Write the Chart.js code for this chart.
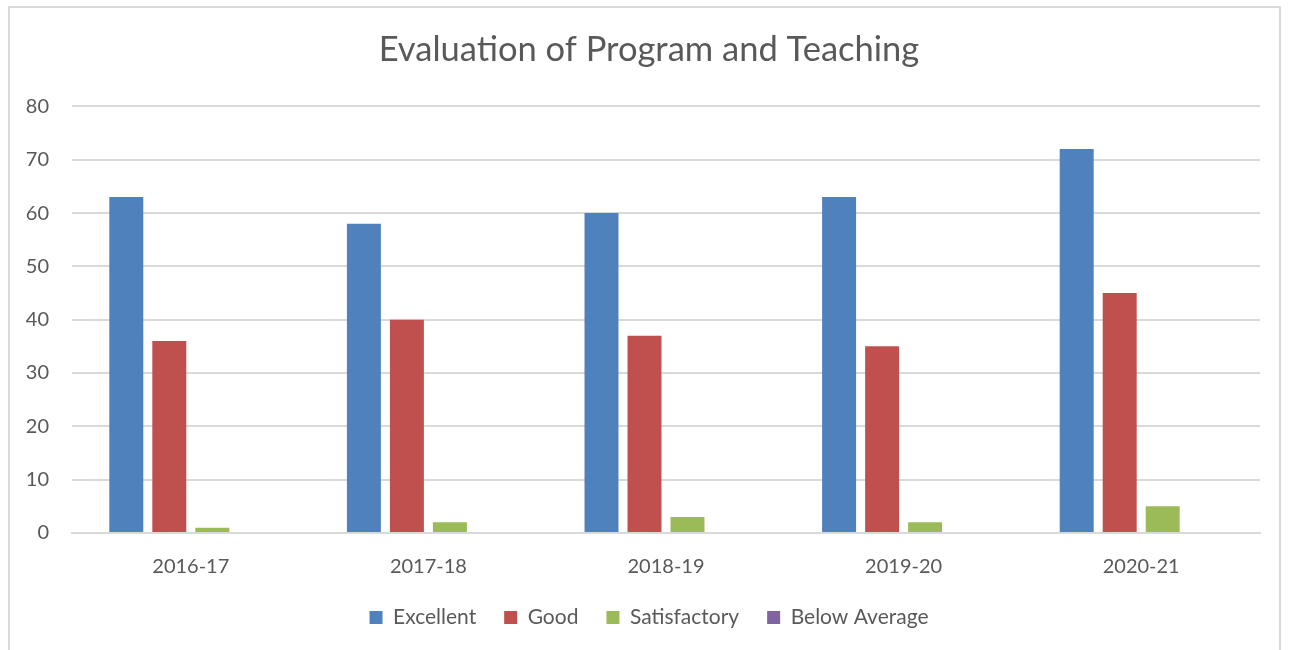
<!DOCTYPE html>
<html><head><meta charset="utf-8">
<script src="https://cdn.jsdelivr.net/npm/chart.js@4/dist/chart.umd.min.js"></script>
<style>
html,body{margin:0;padding:0;background:#fff;overflow:hidden;}
#frame{position:absolute;left:8px;top:6px;width:1269px;height:700px;border:2px solid #d9d9d9;border-bottom:none;}
#wrap{position:absolute;left:0;top:0;width:1289px;height:650px;}
</style></head>
<body>
<div id="frame"></div>
<div id="wrap"><canvas id="c" width="1289" height="650"></canvas></div>
<script>
const categories = ["2016-17","2017-18","2018-19","2019-20","2020-21"];
const excellent = [63,58,60,63,72];
const good = [36,40,37,35,45];
const satisfactory = [1,2,3,2,5];
const belowAverage = [0,0,0,0,0];
const yTicks = [0,10,20,30,40,50,60,70,80];

const FONT = "Lato, 'Open Sans', sans-serif";
const TXT = "#595959";
Chart.defaults.font.family = FONT;
Chart.defaults.color = TXT;

new Chart(document.getElementById("c"), {
  type: "bar",
  data: {
    labels: categories,
    datasets: [
      {label:"Excellent", data:excellent, backgroundColor:"#4f81bd"},
      {label:"Good", data:good, backgroundColor:"#c0504d"},
      {label:"Satisfactory", data:satisfactory, backgroundColor:"#9bbb59"},
      {label:"Below Average", data:belowAverage, backgroundColor:"#8064a2"}
    ]
  },
  options: {
    responsive:false, animation:false,
    devicePixelRatio:1,
    layout:{padding:{left:9,right:0,top:0,bottom:12}},
    datasets:{bar:{categoryPercentage:0.724, barPercentage:0.79}},
    plugins:{
      title:{display:true,text:"Evaluation of Program and Teaching",
        font:{size:34.5,weight:"normal",family:FONT},color:TXT,
        padding:{top:29,bottom:36}},
      legend:{position:"bottom",
        labels:{boxWidth:13,boxHeight:13,font:{size:21},color:TXT,padding:28}
        },
      tooltip:{enabled:false}
    },
    scales:{
      x:{
        grid:{display:false,drawTicks:false},
        border:{display:true,color:"#d9d9d9",width:2},
        ticks:{font:{size:20},color:TXT,padding:22},
        afterFit:(s)=>{s.height = 46;}
      },
      y:{
        min:0,max:80,
        afterBuildTicks:(s)=>{s.ticks = yTicks.map(v=>({value:v}));},
        afterFit:(s)=>{s.width = 63;},
        grid:{color:"#d9d9d9",lineWidth:2,drawTicks:false},
        border:{display:false},
        ticks:{font:{size:20},color:TXT,padding:23}
      },
      yRight:{
        position:"right",display:true,
        grid:{display:false,drawTicks:false},
        border:{display:false},
        ticks:{display:false},
        afterFit:(s)=>{s.width = 29;}
      }
    }
  }
});
</script>
</body></html>
